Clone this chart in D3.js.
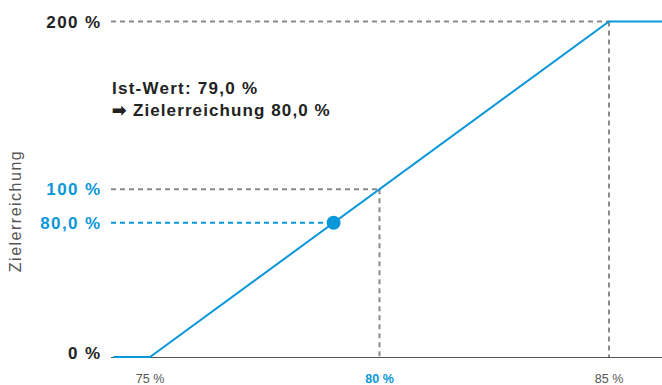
<!DOCTYPE html>
<html><head><meta charset="utf-8">
<script src="https://cdn.jsdelivr.net/npm/d3@7"></script>
<style>body{margin:0;background:#fff;}svg{display:block;font-family:"Liberation Sans",Arial,sans-serif;}</style>
</head><body>
<svg id="c" width="662" height="385"></svg>
<script>
const xTicks = [75, 80, 85];
const xTickLabels = ["75 %", "80 %", "85 %"];
const yTicks = [0, 80, 100, 200];
const yTickLabels = ["0 %", "80,0 %", "100 %", "200 %"];
const curveX = [74.2, 75, 85, 86.2];
const curveY = [0, 0, 200, 200];
const istWert = 79.0;
const zielerreichung = 80.0;
const yTitle = "Zielerreichung";
const note1 = "Ist-Wert: 79,0 %";
const note2 = "\u27A1 Zielerreichung 80,0 %";

const blue = "#0a97d9", grey = "#8a8a8a", dark = "#222";
const svg = d3.select("#c");
const x = d3.scaleLinear().domain([75, 85]).range([150, 609]);
const y = d3.scaleLinear().domain([0, 200]).range([357, 21.5]);
const x0 = 111;

// guide lines
const guides = [
  {v: 200, xv: 85},
  {v: 100, xv: 80}
];
guides.forEach(g => {
  svg.append("line").attr("x1", x0).attr("x2", x(g.xv)).attr("y1", y(g.v)).attr("y2", y(g.v))
    .attr("stroke", grey).attr("stroke-width", 2).attr("stroke-dasharray", "5,4");
  svg.append("line").attr("x1", x(g.xv)).attr("x2", x(g.xv)).attr("y1", y(g.v)).attr("y2", y(0))
    .attr("stroke", grey).attr("stroke-width", 2).attr("stroke-dasharray", "5,4");
});
svg.append("line").attr("x1", x0).attr("x2", x(istWert)).attr("y1", y(zielerreichung)).attr("y2", y(zielerreichung))
  .attr("stroke", blue).attr("stroke-width", 2).attr("stroke-dasharray", "5,4");

// axis line
svg.append("line").attr("x1", x0).attr("x2", 662).attr("y1", y(0)+0.5).attr("y2", y(0)+0.5)
  .attr("stroke", "#555").attr("stroke-width", 1);

// curve
const pts = curveX.map((d, i) => [d, curveY[i]]);
svg.append("path").datum(pts)
  .attr("d", d3.line().x(d => x(d[0])).y(d => y(d[1])))
  .attr("fill", "none").attr("stroke", blue).attr("stroke-width", 2);

// dot
svg.append("circle").attr("cx", x(istWert)).attr("cy", y(zielerreichung)).attr("r", 7).attr("fill", blue);

// y labels
yTicks.forEach((t, i) => {
  const hi = (t === 80 || t === 100);
  svg.append("text").attr("x", 101.5).attr("y", y(t) + (t === 0 ? -4 : 0)).attr("dy", "0.36em")
    .attr("text-anchor", "end").attr("font-size", 17).attr("font-weight", "bold")
    .attr("letter-spacing", 1.4)
    .attr("fill", hi ? blue : dark).text(yTickLabels[i]);
});

// x labels
xTicks.forEach((t, i) => {
  const hi = t === 80;
  svg.append("text").attr("x", x(t)).attr("y", 378).attr("dy", "0.36em")
    .attr("text-anchor", "middle").attr("font-size", 12.5)
    .attr("font-weight", hi ? "bold" : "normal")
    .attr("fill", hi ? blue : "#555").text(xTickLabels[i]);
});

// y title
svg.append("text").attr("transform", "translate(15," + 211 + ") rotate(-90)")
  .attr("text-anchor", "middle").attr("dy", "0.36em").attr("font-size", 16)
  .attr("letter-spacing", 1.5).attr("fill", "#555").text(yTitle);

// annotation
svg.append("text").attr("x", 112).attr("y", 94).attr("font-size", 17).attr("letter-spacing", 1.25)
  .attr("font-weight", "bold").attr("fill", dark).text(note1);
svg.append("text").attr("x", 112).attr("y", 115.5).attr("font-size", 17).attr("letter-spacing", 1.1)
  .attr("font-weight", "bold").attr("fill", dark).text(note2);
</script>
</body></html>
